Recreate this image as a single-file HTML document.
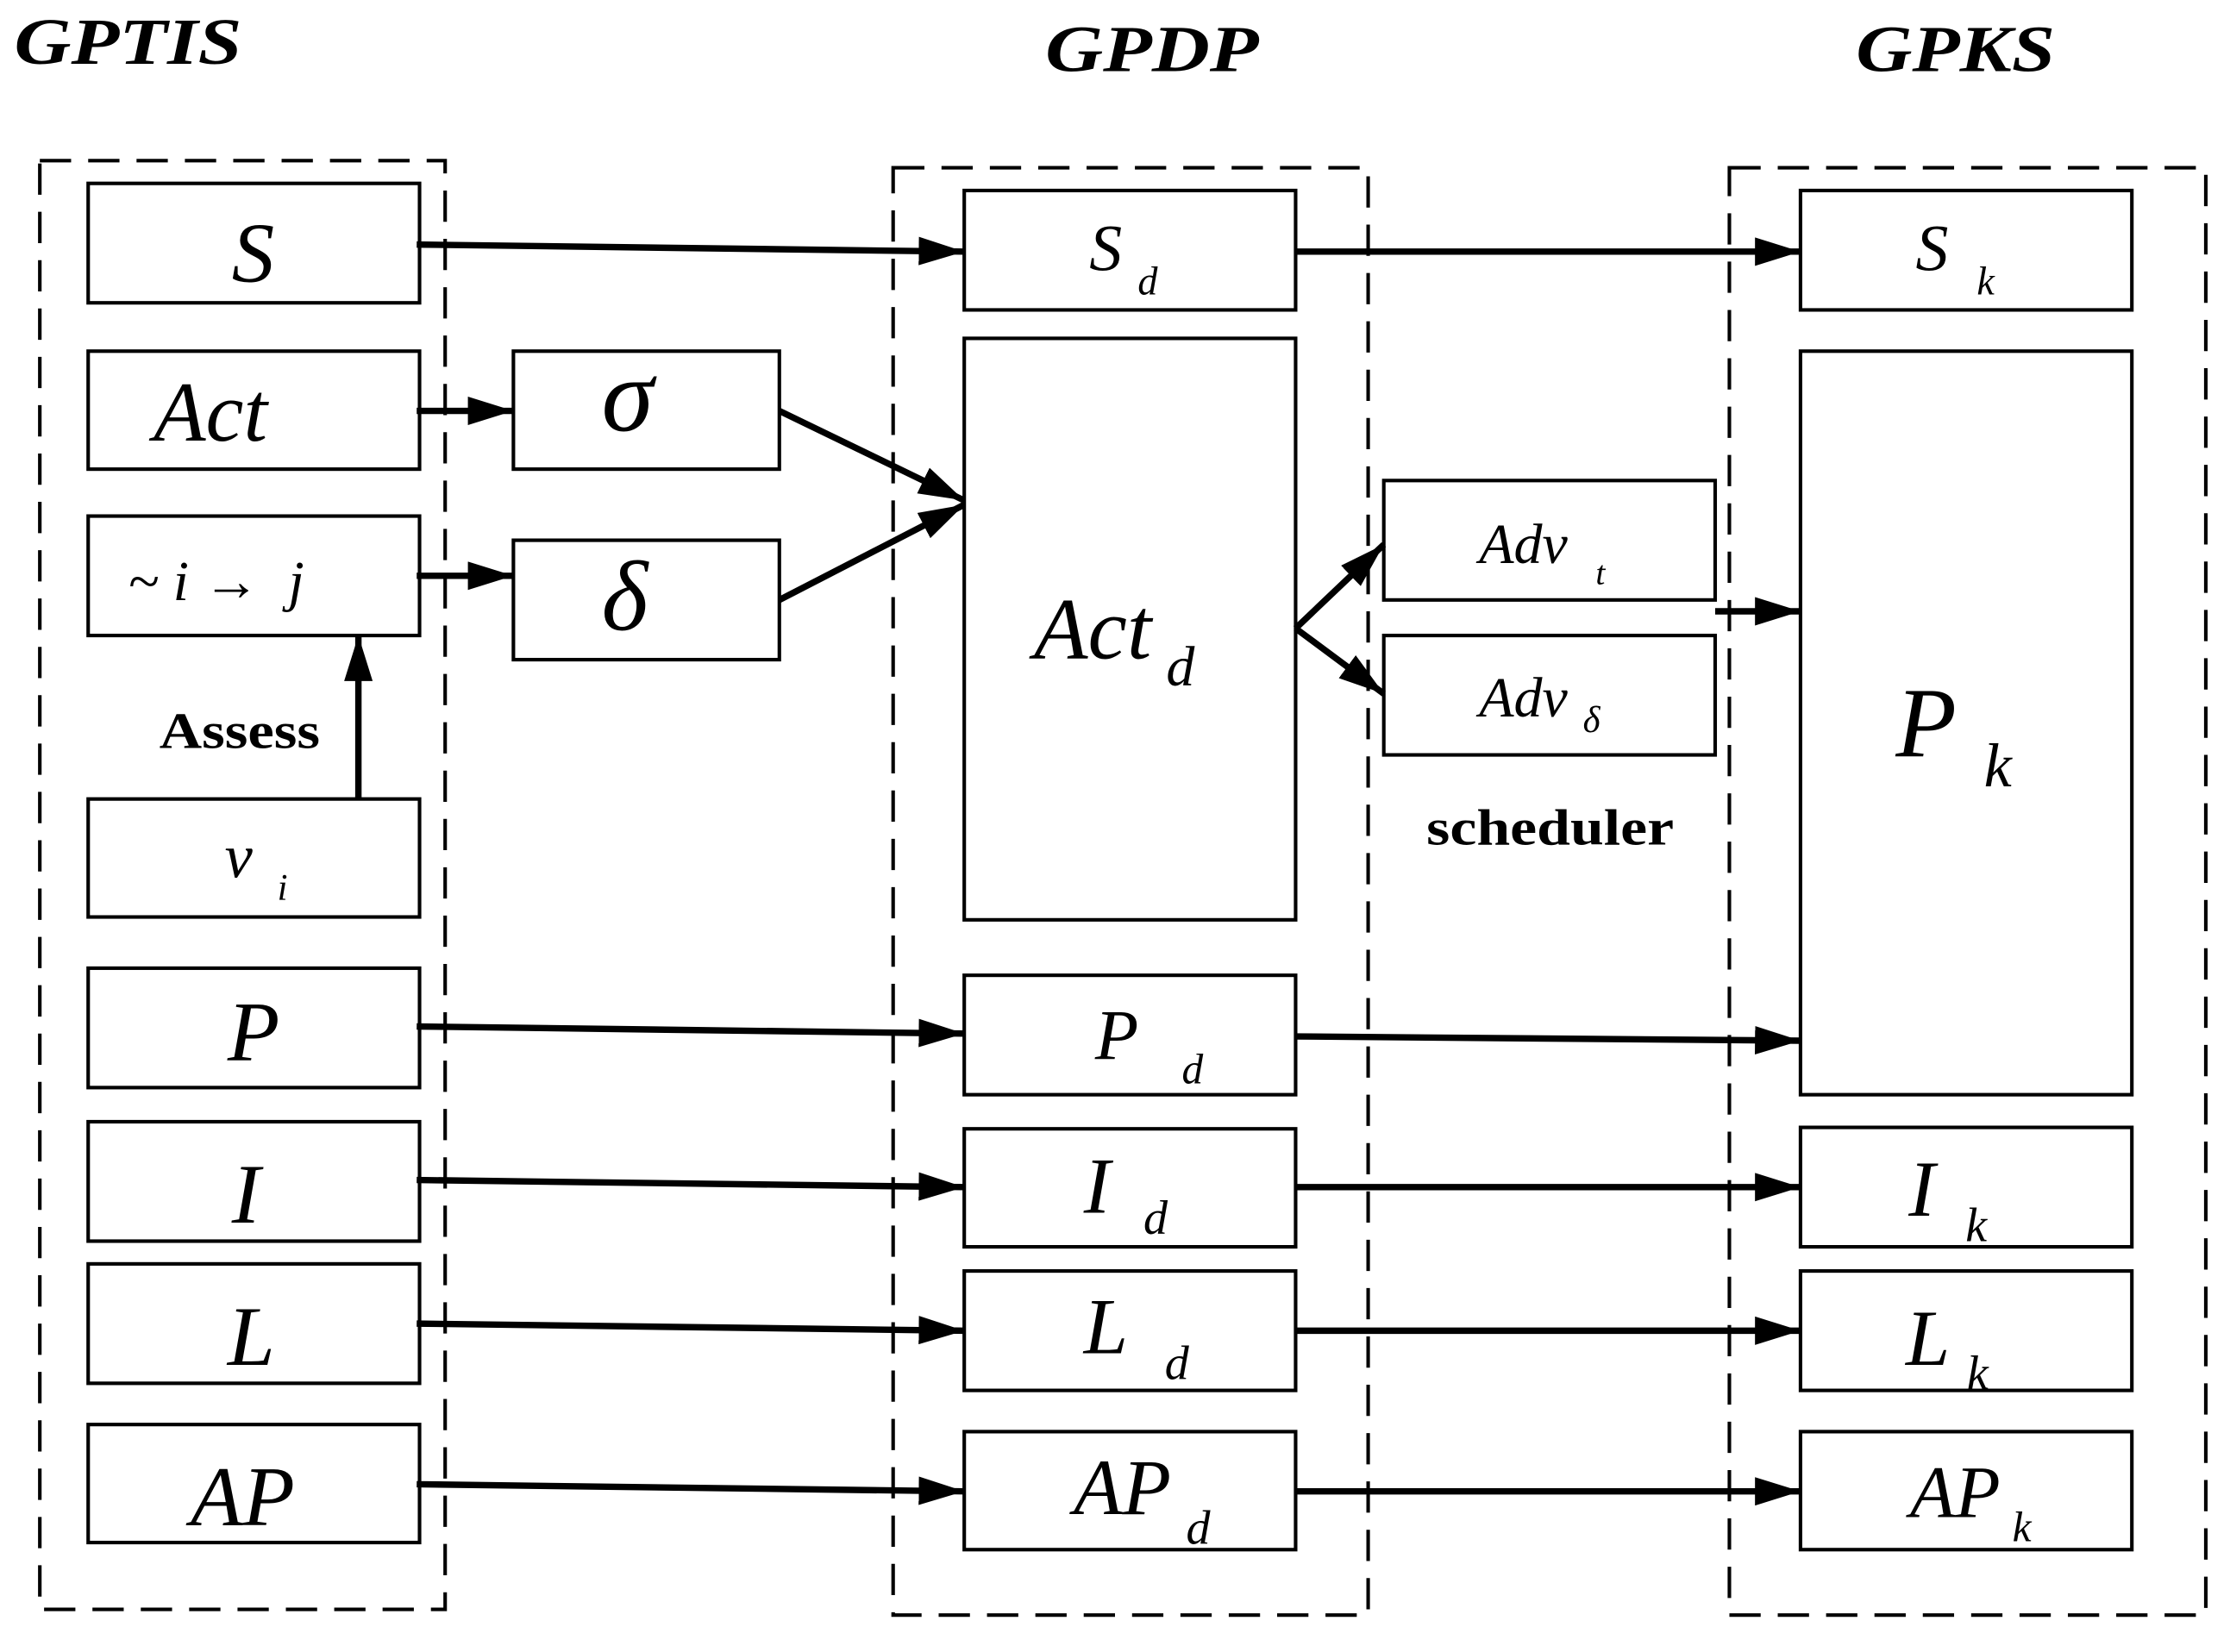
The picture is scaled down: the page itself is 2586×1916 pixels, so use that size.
<!DOCTYPE html>
<html><head><meta charset="utf-8"><style>
html,body{margin:0;padding:0;background:#fff;}
svg{display:block;}
text{font-family:"Liberation Serif",serif;font-style:italic;fill:#000;}
.b{font-weight:bold;}
.n{font-style:normal;}
</style></head><body>
<svg width="2586" height="1916" viewBox="0 0 1568 1162" preserveAspectRatio="none" xmlns="http://www.w3.org/2000/svg">
<defs>
<marker id="a" markerWidth="32" markerHeight="20" refX="32" refY="10" orient="auto" markerUnits="userSpaceOnUse">
<path d="M0,0 L32,10 L0,20 Z" fill="#000"/></marker>
</defs>
<text x="10" y="45" font-size="46" class="b" textLength="160" lengthAdjust="spacingAndGlyphs">GPTIS</text>
<text x="735" y="50" font-size="46" class="b" textLength="150" lengthAdjust="spacingAndGlyphs">GPDP</text>
<text x="1305" y="50" font-size="46" class="b" textLength="140" lengthAdjust="spacingAndGlyphs">GPKS</text>
<g fill="none" stroke="#000" stroke-width="2.5" stroke-dasharray="22,12">
<rect x="28" y="113" width="285" height="1019"/>
<rect x="628" y="118" width="334" height="1018"/>
<rect x="1216" y="118" width="335" height="1018"/>
</g>
<g fill="#fff" stroke="#000" stroke-width="2.5">
<rect x="62" y="129" width="233" height="84"/>
<rect x="62" y="247" width="233" height="83"/>
<rect x="62" y="363" width="233" height="84"/>
<rect x="62" y="562" width="233" height="83"/>
<rect x="62" y="681" width="233" height="84"/>
<rect x="62" y="789" width="233" height="84"/>
<rect x="62" y="889" width="233" height="84"/>
<rect x="62" y="1002" width="233" height="83"/>
<rect x="361" y="247" width="187" height="83"/>
<rect x="361" y="380" width="187" height="84"/>
<rect x="678" y="134" width="233" height="84"/>
<rect x="678" y="238" width="233" height="409"/>
<rect x="678" y="686" width="233" height="84"/>
<rect x="678" y="794" width="233" height="83"/>
<rect x="678" y="894" width="233" height="84"/>
<rect x="678" y="1007" width="233" height="83"/>
<rect x="973" y="338" width="233" height="84"/>
<rect x="973" y="447" width="233" height="84"/>
<rect x="1266" y="134" width="233" height="84"/>
<rect x="1266" y="247" width="233" height="523"/>
<rect x="1266" y="793" width="233" height="84"/>
<rect x="1266" y="894" width="233" height="84"/>
<rect x="1266" y="1007" width="233" height="83"/>
</g>
<g stroke="#000" stroke-width="4.5" fill="none" marker-end="url(#a)">
<line x1="293" y1="172" x2="678" y2="177"/>
<line x1="293" y1="289" x2="361" y2="289"/>
<line x1="293" y1="405" x2="361" y2="405"/>
<line x1="252" y1="562" x2="252" y2="447"/>
<line x1="548" y1="289" x2="678" y2="352"/>
<line x1="548" y1="422" x2="678" y2="355"/>
<line x1="911" y1="177" x2="1266" y2="177"/>
<line x1="911" y1="442" x2="973" y2="383"/>
<line x1="911" y1="442" x2="973" y2="488"/>
<line x1="1206" y1="430" x2="1266" y2="430"/>
<line x1="293" y1="722" x2="678" y2="727"/>
<line x1="911" y1="729" x2="1266" y2="732"/>
<line x1="293" y1="830" x2="678" y2="835"/>
<line x1="911" y1="835" x2="1266" y2="835"/>
<line x1="293" y1="931" x2="678" y2="936"/>
<line x1="911" y1="936" x2="1266" y2="936"/>
<line x1="293" y1="1044" x2="678" y2="1049"/>
<line x1="911" y1="1049" x2="1266" y2="1049"/>
</g>
<g font-size="60">
<text x="163" y="198">S</text>
<text x="108" y="310">Act</text>
<text x="160" y="746">P</text>
<text x="163" y="860">I</text>
<text x="160" y="960">L</text>
<text x="134" y="1073">AP</text>
</g>
<text x="423" y="303" font-size="74">σ</text>
<text x="423" y="443" font-size="70">δ</text>
<text x="90" y="422" font-size="40">~ <tspan>i</tspan> → <tspan dx="10">j</tspan></text>
<text x="158" y="617" font-size="44">v</text><text x="195" y="633" font-size="26">i</text>
<text x="112" y="526" font-size="36" class="b n" textLength="113" lengthAdjust="spacingAndGlyphs">Assess</text>
<text x="1003" y="594" font-size="36" class="b n" textLength="174" lengthAdjust="spacingAndGlyphs">scheduler</text>
<text x="766" y="190" font-size="46">S</text><text x="800" y="207" font-size="28">d</text>
<text x="727" y="463" font-size="62">Act</text><text x="820" y="482" font-size="40">d</text>
<text x="770" y="745" font-size="50">P</text><text x="831" y="762" font-size="30">d</text>
<text x="762" y="853" font-size="56">I</text><text x="804" y="868" font-size="34">d</text>
<text x="762" y="952" font-size="56">L</text><text x="819" y="970" font-size="34">d</text>
<text x="755" y="1065" font-size="56">AP</text><text x="834" y="1086" font-size="34">d</text>
<text x="1040" y="396" font-size="40">Adv</text><text x="1122" y="411" font-size="24">t</text>
<text x="1040" y="504" font-size="40">Adv</text><text x="1113" y="515" font-size="26">δ</text>
<text x="1347" y="190" font-size="46">S</text><text x="1390" y="207" font-size="28">k</text>
<text x="1333" y="532" font-size="70">P</text><text x="1395" y="553" font-size="44">k</text>
<text x="1342" y="855" font-size="56">I</text><text x="1382" y="873" font-size="34">k</text>
<text x="1340" y="960" font-size="56">L</text><text x="1383" y="977" font-size="34">k</text>
<text x="1343" y="1067" font-size="52">AP</text><text x="1415" y="1084" font-size="30">k</text>
</svg>
</body></html>
